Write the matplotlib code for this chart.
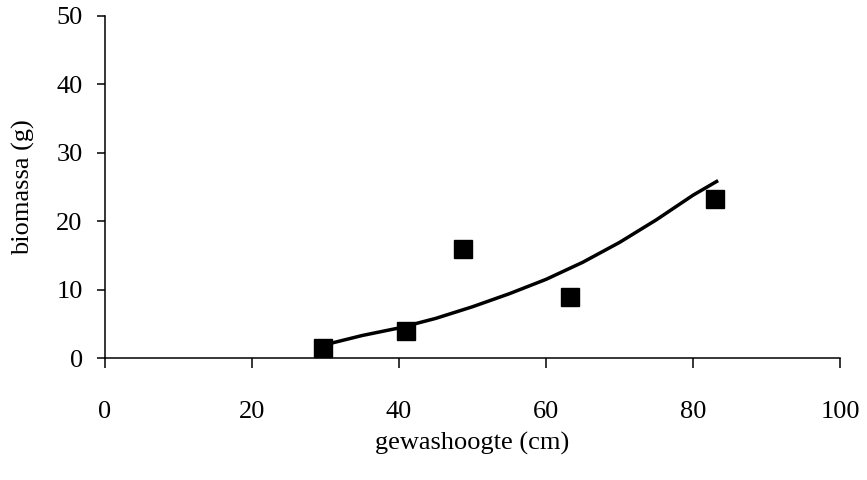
import matplotlib.pyplot as plt
from matplotlib import rcParams

# Measured points (gewashoogte in cm, biomassa in g)
height_cm = [29.7, 41.0, 48.7, 63.3, 83.0]
biomass_g = [1.5, 3.9, 15.9, 8.9, 23.3]

# Trend line
trend_x = [30.5, 35, 40, 45, 50, 55, 60, 65, 70, 75, 80, 83.2]
trend_y = [2.1, 3.3, 4.4, 5.8, 7.5, 9.4, 11.5, 14.0, 16.9, 20.2, 23.8, 25.8]

x_ticks = [0, 20, 40, 60, 80, 100]
y_ticks = [0, 10, 20, 30, 40, 50]


def set_rcparams():
    rcParams['font.family'] = 'serif'
    rcParams['font.serif'] = ['Liberation Serif', 'DejaVu Serif']
    rcParams['font.size'] = 19
    rcParams['xtick.direction'] = 'out'
    rcParams['ytick.direction'] = 'out'


def main():
    set_rcparams()
    fig = plt.figure(figsize=(8.67, 4.8), dpi=100)
    ax = fig.add_axes([0.121, 0.254, 0.848, 0.713])

    ax.plot(trend_x, trend_y, color='black', linewidth=2.5, zorder=2)
    ax.plot(height_cm, biomass_g, linestyle='none', marker='s', markersize=13.5,
            color='black', zorder=3)

    ax.set_xlim(0, 100)
    ax.set_ylim(0, 50)
    ax.set_xticks(x_ticks)
    ax.set_yticks(y_ticks)

    # Only left and bottom frame lines
    ax.spines['top'].set_visible(False)
    ax.spines['right'].set_visible(False)
    ax.spines['left'].set_linewidth(1.1)
    ax.spines['bottom'].set_linewidth(1.1)

    ax.tick_params(axis='x', length=7, width=1.1, pad=24)
    ax.tick_params(axis='y', length=6, width=1.1, pad=10)

    ax.set_xlabel('gewashoogte (cm)', labelpad=6)
    ax.set_ylabel('biomassa (g)', labelpad=15)

    fig.savefig('out.png', dpi=100)


if __name__ == '__main__':
    main()
